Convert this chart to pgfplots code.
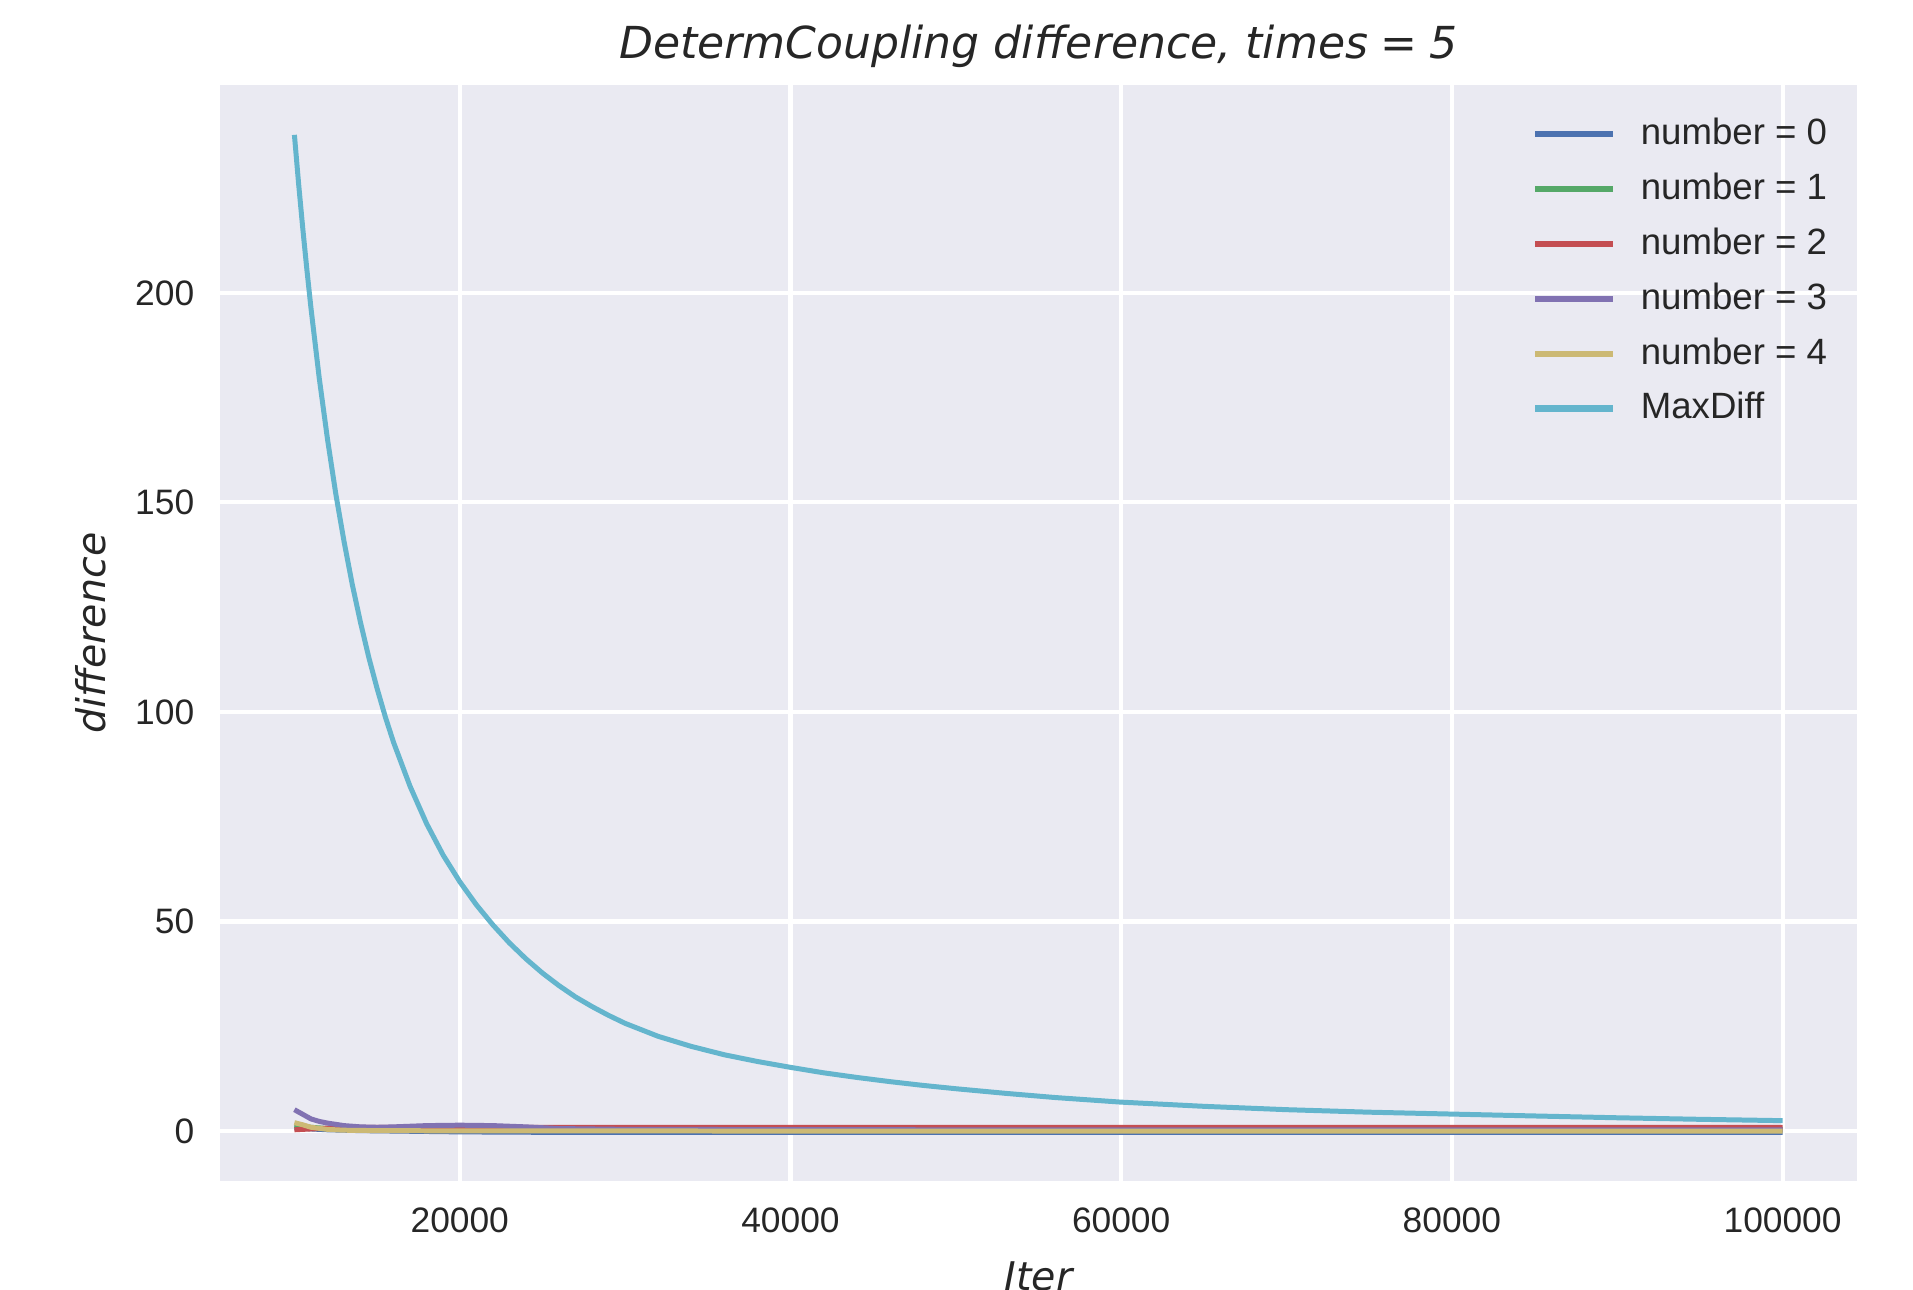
\documentclass[border=0pt]{standalone}
\usepackage{pgfplots}
\pgfplotsset{compat=1.18}
\usepackage{fontspec}
\setmainfont{Liberation Sans}
\newfontfamily\dvs{DejaVu Sans}
\definecolor{sbBg}{HTML}{EAEAF2}
\definecolor{sbText}{HTML}{262626}
\definecolor{sbBlue}{HTML}{4C72B0}
\definecolor{sbGreen}{HTML}{55A868}
\definecolor{sbRed}{HTML}{C44E52}
\definecolor{sbPurple}{HTML}{8172B2}
\definecolor{sbYellow}{HTML}{CCB974}
\definecolor{sbCyan}{HTML}{64B5CD}

\begin{document}
\begin{tikzpicture}
\begin{axis}[
    name=ax,
    scale only axis, width=393.6pt, height=263.5pt,
    xmin=5500, xmax=104500, ymin=-11.9, ymax=249.6,
    xtick={20000,40000,60000,80000,100000},
    xticklabels={20000,40000,60000,80000,100000},
    ytick={0,50,100,150,200},
    yticklabels={0,50,100,150,200},
    scaled ticks=false,
    axis background/.style={fill=sbBg},
    axis line style={draw=none}, tick style={draw=none},
    grid=major, major grid style={white, line width=1pt},
    ticklabel style={font=\fontsize{8.5}{10}\selectfont, text=sbText, inner sep=0pt},
    xticklabel style={anchor=north, yshift=-6.3pt},
    yticklabel style={anchor=east, xshift=-6pt},
    title={\dvs\itshape DetermCoupling difference,\ times\;{\upshape=}\;5},
    every axis title/.style={at={(0.5,1)}, anchor=base, yshift=6.4pt,
        font=\fontsize{10.6}{12}\selectfont, text=sbText, inner sep=0pt},
    xlabel={\dvs\itshape Iter},
    ylabel={\dvs\itshape difference},
    every axis x label/.style={at={(rel axis cs:0.5,0)}, anchor=center, yshift=-23pt,
        font=\fontsize{9.5}{11}\selectfont, text=sbText},
    every axis y label/.style={at={(rel axis cs:0,0.5)}, anchor=center, rotate=90, yshift=31pt,
        font=\fontsize{9.5}{11}\selectfont, text=sbText},
    legend style={draw=none, fill=none, at={(1,1)}, anchor=north east, xshift=-3pt, yshift=-4.6pt,
        font=\fontsize{8.8}{10}\selectfont, text=sbText, row sep=3.2pt,
        nodes={inner sep=1pt, text height=6.5pt, text depth=1.5pt}},
    legend cell align=left,
    legend image code/.code={\draw[#1, line width=1.5pt] (0pt,0pt) -- (18.8pt,0pt); \path (23.8pt,0pt);},
    every axis plot/.append style={line width=1.2pt, line join=round},
]
\addplot[sbBlue, no marks] coordinates {
 (10000,0.8) (11000,0.5) (12000,0.3) (14000,0.1) (20000,-0.2) (25000,-0.3)
 (40000,-0.3) (60000,-0.3) (80000,-0.3) (100000,-0.3)};
\addlegendentry{number = 0}
\addplot[sbGreen, no marks] coordinates {
 (10000,1.3) (11000,0.9) (12000,0.6) (14000,0.4) (20000,0.4) (40000,0.4)
 (60000,0.4) (80000,0.4) (100000,0.4)};
\addlegendentry{number = 1}
\addplot[sbRed, no marks] coordinates {
 (10000,0.3) (11000,0.5) (12000,0.7) (14000,0.9) (20000,0.9) (40000,0.9)
 (60000,0.9) (80000,0.9) (100000,0.9)};
\addlegendentry{number = 2}
\addplot[sbPurple, no marks] coordinates {
 (10000,5.1) (10500,4.0) (11000,2.9) (11500,2.3) (12000,1.9) (12500,1.6)
 (13000,1.3) (14000,1.0) (15000,0.9) (16000,1.0) (18000,1.3) (20000,1.4)
 (22000,1.3) (24000,1.0) (26000,0.6) (30000,0.4) (50000,0.3) (75000,0.3) (100000,0.3)};
\addlegendentry{number = 3}
\addplot[sbYellow, no marks] coordinates {
 (10000,2.0) (10500,1.5) (11000,0.9) (12000,0.4) (13000,0.2) (15000,0.1)
 (20000,0.05) (40000,0.0) (60000,0.0) (80000,0.0) (100000,0.0)};
\addlegendentry{number = 4}
\addplot[sbCyan, no marks] coordinates {
 (10000,237.7) (10250,226.2) (10500,215.6) (10750,205.7) (11000,196.4)
 (11500,179.7) (12000,165.1) (12500,152.1) (13000,140.7) (13500,130.4)
 (14000,121.3) (14500,113.0) (15000,105.6) (15500,98.8) (16000,92.7)
 (17000,82.2) (18000,73.3) (19000,65.8) (20000,59.5) (21000,54.0)
 (22000,49.2) (23000,44.9) (24000,41.1) (25000,37.7) (26000,34.7)
 (27000,32.0) (28000,29.7) (29000,27.6) (30000,25.7) (32000,22.6)
 (34000,20.2) (36000,18.2) (38000,16.6) (40000,15.2) (42000,13.9)
 (44000,12.8) (46000,11.8) (48000,10.9) (50000,10.1) (53000,9.0)
 (56000,8.0) (60000,6.9) (65000,5.9) (70000,5.1) (75000,4.5) (80000,4.05)
 (85000,3.6) (90000,3.17) (95000,2.8) (100000,2.48)};
\addlegendentry{MaxDiff}
\end{axis}
\pgfresetboundingbox
\path ([xshift=-52.9pt,yshift=-26.2pt]ax.south west) rectangle ([xshift=13.47pt,yshift=20.44pt]ax.north east);
\end{tikzpicture}
\end{document}
